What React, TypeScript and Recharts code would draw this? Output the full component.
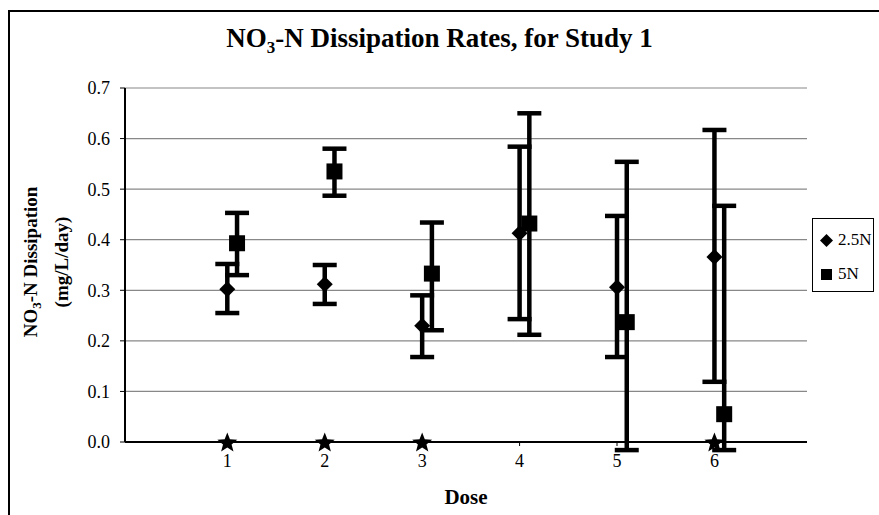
import React from 'react';
import {
  ScatterChart,
  Scatter,
  XAxis,
  YAxis,
  CartesianGrid,
  ErrorBar,
  Legend
} from 'recharts';

const doses = [1, 2, 3, 4, 5, 6];
const mean25 = [0.302, 0.312, 0.23, 0.413, 0.306, 0.366];
const low25 = [0.255, 0.273, 0.168, 0.243, 0.168, 0.119];
const high25 = [0.352, 0.35, 0.29, 0.584, 0.447, 0.617];
const mean5 = [0.393, 0.535, 0.333, 0.432, 0.237, 0.055];
const low5 = [0.33, 0.487, 0.221, 0.212, -0.016, -0.016];
const high5 = [0.453, 0.58, 0.434, 0.65, 0.554, 0.467];
const starDoses = [1, 2, 3, 6];
const yTicks = [0, 0.1, 0.2, 0.3, 0.4, 0.5, 0.6, 0.7];
const xTicks = [1, 2, 3, 4, 5, 6];

const data25 = doses.map((d, i) => ({
  x: d,
  y: mean25[i],
  err: [mean25[i] - low25[i], high25[i] - mean25[i]]
}));
const data5 = doses.map((d, i) => ({
  x: d + 0.1,
  y: mean5[i],
  err: [mean5[i] - low5[i], high5[i] - mean5[i]]
}));
const starData = starDoses.map((d) => ({ x: d, y: 0 }));

const FONT = '"Liberation Serif", "Times New Roman", serif';

const Diamond = (props: any) => {
  const { cx, cy } = props;
  const r = 8;
  return <polygon points={`${cx},${cy - r} ${cx + r},${cy} ${cx},${cy + r} ${cx - r},${cy}`} fill="#000" />;
};

const Square = (props: any) => {
  const { cx, cy } = props;
  const s = 16;
  return <rect x={cx - s / 2} y={cy - s / 2} width={s} height={s} fill="#000" />;
};

const Star = (props: any) => {
  const { cx, cy } = props;
  const pts: string[] = [];
  for (let k = 0; k < 10; k++) {
    const r = k % 2 === 0 ? 10.5 : 4.5;
    const a = -Math.PI / 2 + (k * Math.PI) / 5;
    pts.push(`${cx + r * Math.cos(a)},${cy + 1 + r * Math.sin(a)}`);
  }
  return <polygon points={pts.join(' ')} fill="#000" />;
};

const LegendBox = (props: any) => {
  const items = (props.payload || []).filter((p: any) => p.type !== 'none');
  return (
    <div style={{ fontFamily: FONT, fontSize: 17, padding: '4px 0 0 6px' }}>
      {items.map((p: any) => (
        <div key={p.value} style={{ display: 'flex', alignItems: 'center', height: 34 }}>
          <svg width={15} height={15} style={{ marginRight: 4 }}>
            {p.value === '2.5N' ? (
              <polygon points="7.5,1 14,7.5 7.5,14 1,7.5" fill="#000" />
            ) : (
              <rect x={2} y={2} width={11} height={11} fill="#000" />
            )}
          </svg>
          <span>{p.value}</span>
        </div>
      ))}
    </div>
  );
};

export default function App() {
  return (
    <div style={{ position: 'absolute', left: 0, top: 0, width: 879, height: 515, background: '#fff', overflow: 'hidden' }}>
      <div style={{ position: 'absolute', left: 8, top: 10, width: 900, height: 600, borderTop: '2px solid #000', borderLeft: '2px solid #000' }} />
      <div style={{ position: 'absolute', left: 0, top: 23, width: 879, textAlign: 'center', fontFamily: FONT, fontWeight: 'bold', fontSize: 27 }}>
        NO<sub style={{ fontSize: 17 }}>3</sub>-N Dissipation Rates, for Study 1
      </div>
      <div
        style={{
          position: 'absolute',
          left: 46,
          top: 262,
          transform: 'translate(-50%, -50%) rotate(-90deg)',
          fontFamily: FONT,
          fontWeight: 'bold',
          fontSize: 19,
          textAlign: 'center',
          whiteSpace: 'nowrap',
          lineHeight: '24px'
        }}
      >
        <div>NO<sub style={{ fontSize: 13 }}>3</sub>-N Dissipation</div>
        <div>(mg/L/day)</div>
      </div>
      <div style={{ position: 'absolute', left: 125, width: 682, top: 485, textAlign: 'center', fontFamily: FONT, fontWeight: 'bold', fontSize: 21 }}>
        Dose
      </div>
      <ScatterChart width={879} height={515} margin={{ top: 88, right: 72, bottom: 43, left: 65 }}>
        <CartesianGrid vertical={false} stroke="#888" strokeWidth={1.2} />
        <XAxis
          type="number"
          dataKey="x"
          domain={[-0.05, 6.95]}
          ticks={xTicks}
          height={30}
          tickSize={4}
          tickMargin={8}
          axisLine={{ stroke: '#000', strokeWidth: 2 }}
          tickLine={{ stroke: '#000' }}
          tick={{ fill: '#000', fontFamily: FONT, fontSize: 18 }}
        />
        <XAxis xAxisId="top" orientation="top" type="number" domain={[0, 1]} height={0} tick={false} tickLine={false} axisLine={{ stroke: '#000', strokeWidth: 2 }} />
        <YAxis
          type="number"
          dataKey="y"
          domain={[0, 0.7]}
          ticks={yTicks}
          allowDataOverflow
          width={60}
          tickSize={5}
          tickMargin={10}
          tickFormatter={(v: number) => v.toFixed(1)}
          axisLine={{ stroke: '#000', strokeWidth: 2 }}
          tickLine={{ stroke: '#000' }}
          tick={{ fill: '#000', fontFamily: FONT, fontSize: 18 }}
        />
        <YAxis yAxisId="right" orientation="right" type="number" domain={[0, 1]} width={0} tick={false} tickLine={false} axisLine={{ stroke: '#000', strokeWidth: 2 }} />
        <YAxis yAxisId="stars" type="number" dataKey="y" domain={[0, 0.7]} hide />
        <Legend
          layout="vertical"
          align="center"
          verticalAlign="middle"
          content={<LegendBox />}
          wrapperStyle={{ left: 812, top: 218, width: 62, height: 74, border: '1px solid #000', background: '#fff', boxSizing: 'border-box' }}
        />
        <Scatter name="2.5N" data={data25} shape={<Diamond />} fill="#000" isAnimationActive={false}>
          <ErrorBar dataKey="err" direction="y" width={12} strokeWidth={4.5} stroke="#000" isAnimationActive={false} />
        </Scatter>
        <Scatter name="5N" data={data5} shape={<Square />} fill="#000" isAnimationActive={false}>
          <ErrorBar dataKey="err" direction="y" width={12} strokeWidth={4.5} stroke="#000" isAnimationActive={false} />
        </Scatter>
        <Scatter name="stars" yAxisId="stars" data={starData} shape={<Star />} fill="#000" legendType="none" isAnimationActive={false} />
      </ScatterChart>
    </div>
  );
}
